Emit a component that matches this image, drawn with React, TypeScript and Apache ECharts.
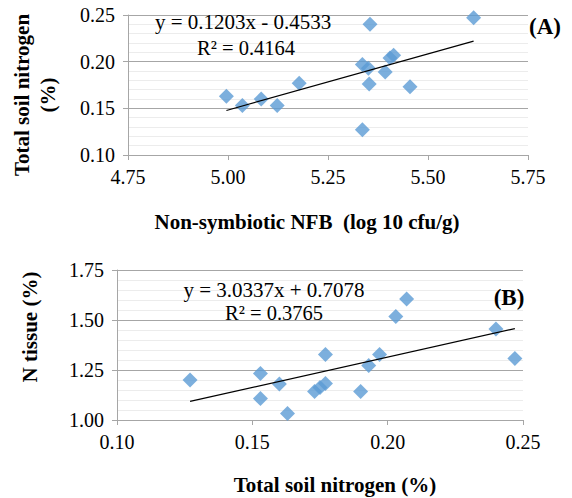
import React, { useEffect, useRef } from "react";
import * as echarts from "echarts";

// Panel A: Non-symbiotic NFB (log10 cfu/g) vs total soil nitrogen (%)
const nfbLog = [4.996, 5.036, 5.083, 5.123, 5.178, 5.336, 5.351, 5.355, 5.353, 5.336, 5.393, 5.405, 5.414, 5.455, 5.614];
const soilNA = [0.163, 0.153, 0.160, 0.153, 0.177, 0.197, 0.193, 0.240, 0.176, 0.127, 0.189, 0.204, 0.207, 0.173, 0.247];
const trendA = { slope: 0.1203, intercept: -0.4533, r2: 0.4164 };

// Panel B: Total soil nitrogen (%) vs N tissue (%)
const soilNB = [0.127, 0.153, 0.153, 0.160, 0.163, 0.173, 0.175, 0.177, 0.177, 0.190, 0.193, 0.197, 0.203, 0.207, 0.240, 0.247];
const nTissue = [1.20, 1.233, 1.107, 1.18, 1.033, 1.142, 1.163, 1.183, 1.328, 1.142, 1.272, 1.328, 1.517, 1.605, 1.455, 1.308];
const trendB = { slope: 3.0337, intercept: 0.7078, r2: 0.3765 };

const xTicksA = { min: 4.75, max: 5.75, interval: 0.25 };
const yTicksA = { min: 0.10, max: 0.25, interval: 0.05 };
const xTicksB = { min: 0.10, max: 0.25, interval: 0.05 };
const yTicksB = { min: 1.00, max: 1.75, interval: 0.25 };

const FONT = "Liberation Serif";
const BLUE = "#5b9bd5";
const MAJOR = "#a6a6a6";
const MINOR = "#ececec";

function trendPoints(xs: number[], t: { slope: number; intercept: number }) {
  const lo = Math.min(...xs);
  const hi = Math.max(...xs);
  return [
    [lo, t.slope * lo + t.intercept],
    [hi, t.slope * hi + t.intercept],
  ];
}

function xAxisCfg(gridIndex: number, t: { min: number; max: number; interval: number }) {
  return {
    type: "value",
    gridIndex,
    min: t.min,
    max: t.max,
    interval: t.interval,
    axisLine: { show: true, lineStyle: { color: MAJOR, width: 1 } },
    axisTick: { show: true, inside: false, length: 5, lineStyle: { color: MAJOR } },
    splitLine: { show: false },
    axisLabel: {
      color: "#000",
      fontFamily: FONT,
      fontSize: 20,
      margin: 12,
      formatter: (v: number) => v.toFixed(2),
    },
  };
}

function yAxisCfg(gridIndex: number, t: { min: number; max: number; interval: number }) {
  return {
    type: "value",
    gridIndex,
    min: t.min,
    max: t.max,
    interval: t.interval,
    axisLine: { show: true, lineStyle: { color: MAJOR, width: 1 } },
    axisTick: { show: true, inside: false, length: 5, lineStyle: { color: MAJOR } },
    splitLine: { show: true, lineStyle: { color: MAJOR, width: 1 } },
    minorTick: { show: false, splitNumber: 5 },
    minorSplitLine: { show: true, lineStyle: { color: MINOR, width: 1 } },
    axisLabel: {
      color: "#000",
      fontFamily: FONT,
      fontSize: 20,
      margin: 13,
      formatter: (v: number) => v.toFixed(2),
    },
  };
}

export default function App() {
  const ref = useRef<HTMLDivElement>(null);

  useEffect(() => {
    if (!ref.current) return;
    const chart = echarts.init(ref.current, undefined, { renderer: "svg" });

    const dataA = nfbLog.map((x, i) => [x, soilNA[i]]);
    const dataB = soilNB.map((x, i) => [x, nTissue[i]]);

    const txt = (x: number, y: number, text: string, size: number, bold: boolean, align = "left", rotation = 0, lineHeight?: number) => ({
      type: "text",
      x,
      y,
      z: 100,
      rotation,
      style: {
        text,
        fill: "#000",
        fontFamily: FONT,
        fontSize: size,
        fontWeight: bold ? "bold" : "normal",
        textAlign: align,
        textVerticalAlign: "middle",
        lineHeight: lineHeight ?? size * 1.2,
      },
      silent: true,
    });

    chart.setOption({
      animation: false,
      backgroundColor: "#fff",
      grid: [
        { left: 128, top: 15, width: 400, height: 140, containLabel: false },
        { left: 117, top: 270, width: 406, height: 150, containLabel: false },
      ],
      xAxis: [xAxisCfg(0, xTicksA), xAxisCfg(1, xTicksB)],
      yAxis: [yAxisCfg(0, yTicksA), yAxisCfg(1, yTicksB)],
      series: [
        {
          type: "line",
          xAxisIndex: 0,
          yAxisIndex: 0,
          data: trendPoints(nfbLog, trendA),
          showSymbol: false,
          symbol: "none",
          lineStyle: { color: "#000", width: 1.2 },
          silent: true,
          z: 3,
        },
        {
          type: "scatter",
          xAxisIndex: 0,
          yAxisIndex: 0,
          data: dataA,
          symbol: "diamond",
          symbolSize: 15,
          itemStyle: { color: BLUE },
          z: 2,
        },
        {
          type: "line",
          xAxisIndex: 1,
          yAxisIndex: 1,
          data: trendPoints(soilNB, trendB),
          showSymbol: false,
          symbol: "none",
          lineStyle: { color: "#000", width: 1.2 },
          silent: true,
          z: 3,
        },
        {
          type: "scatter",
          xAxisIndex: 1,
          yAxisIndex: 1,
          data: dataB,
          symbol: "diamond",
          symbolSize: 15,
          itemStyle: { color: BLUE },
          z: 2,
        },
      ],
      graphic: [
        txt(155, 22, `y = ${trendA.slope.toFixed(4)}x - ${Math.abs(trendA.intercept).toFixed(4)}`, 21, false),
        txt(246, 48, `R² = ${trendA.r2.toFixed(4)}`, 20.5, false, "center"),
        txt(545, 26, "(A)", 23, true, "center"),
        txt(307, 222, "Non-symbiotic NFB \u00a0(log 10 cfu/g)", 21, true, "center"),
        txt(35, 95, "Total soil nitrogen\n(%)", 21, true, "center", Math.PI / 2, 26),

        txt(274, 290, `y = ${trendB.slope.toFixed(4)}x + ${trendB.intercept.toFixed(4)}`, 21, false, "center"),
        txt(274, 313, `R² = ${trendB.r2.toFixed(4)}`, 20.5, false, "center"),
        txt(509, 297, "(B)", 23, true, "center"),
        txt(335, 485, "Total soil nitrogen (%)", 21, true, "center"),
        txt(30, 327, "N tissue (%)", 21, true, "center", Math.PI / 2),
      ],
    });

    return () => chart.dispose();
  }, []);

  return (
    <div
      ref={ref}
      style={{ position: "fixed", left: 0, top: 0, width: 572, height: 498, background: "#fff" }}
    />
  );
}
